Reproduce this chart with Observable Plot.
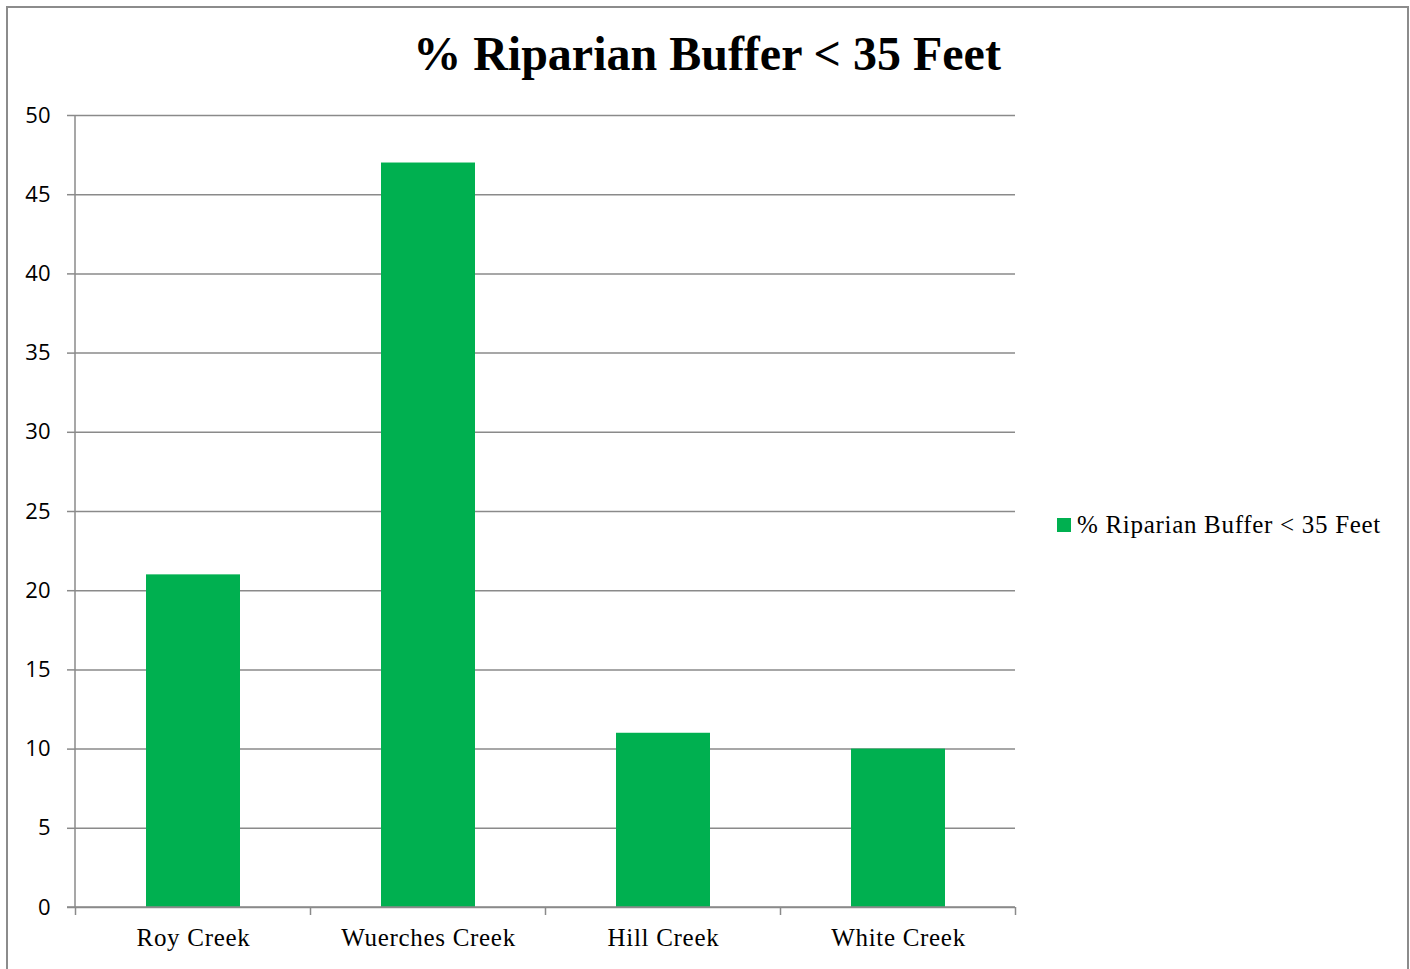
<!DOCTYPE html>
<html>
<head>
<meta charset="utf-8">
<script src="https://cdn.jsdelivr.net/npm/d3@7"></script>
<script src="https://cdn.jsdelivr.net/npm/@observablehq/plot@0.6"></script>
<style>
  html, body { margin: 0; padding: 0; background: #fff; }
  #wrap { position: relative; width: 1410px; height: 969px; overflow: hidden; }
  #frame { position: absolute; left: 6px; top: 6px; width: 1403px; height: 980px; border: 2px solid #8c8c8c; box-sizing: border-box; }
  #title { position: absolute; left: 0; width: 1414px; top: 26px; text-align: center; font-family: "Liberation Serif", "Times New Roman", serif; font-weight: bold; font-size: 48px; color: #000; }
  #legend { position: absolute; left: 1057px; top: 511px; font-family: "Liberation Serif", "Times New Roman", serif; font-size: 25px; letter-spacing: 0.7px; color: #000; display: flex; align-items: center; white-space: nowrap; }
  #legend .sw { width: 14px; height: 14px; background: #00B050; margin-right: 6px; }
  #chart { position: absolute; left: 0; top: 0; }
</style>
</head>
<body>
<div id="wrap">
  <div id="frame"></div>
  <div id="chart"></div>
  <div id="title"></div>
  <div id="legend"><span class="sw"></span><span id="legendText"></span></div>
</div>
<script>
const titleText = "% Riparian Buffer < 35 Feet";
const seriesName = "% Riparian Buffer < 35 Feet";
const categories = ["Roy Creek", "Wuerches Creek", "Hill Creek", "White Creek"];
const values = [21, 47, 11, 10];
const yTicks = [0, 5, 10, 15, 20, 25, 30, 35, 40, 45, 50];
const barColor = "#00B050";
const gridColor = "#8a8a8a";

document.getElementById("title").textContent = titleText;
document.getElementById("legendText").textContent = seriesName;

const data = categories.map((c, i) => ({category: c, value: values[i]}));

// boundary ticks between categories on x axis, plus axis lines
function boundaryTicks(index, scales, values, dims) {
  const x = scales.x, y = scales.y;
  const step = x.step();
  const g = d3.create("svg:g");
  const xs = categories.map(c => x(c) + x.bandwidth() / 2 - step / 2);
  xs.push(x(categories[categories.length - 1]) + x.bandwidth() / 2 + step / 2);
  const y0 = y(0);
  for (const xv of xs) {
    g.append("line").attr("x1", xv).attr("x2", xv).attr("y1", y0).attr("y2", y0 + 8)
      .attr("stroke", gridColor).attr("stroke-width", 1.5);
  }
  g.append("line").attr("x1", dims.marginLeft - 8).attr("x2", dims.width - dims.marginRight)
    .attr("y1", y0).attr("y2", y0).attr("stroke", gridColor).attr("stroke-width", 1.5);
  g.append("line").attr("x1", dims.marginLeft).attr("x2", dims.marginLeft)
    .attr("y1", y(50)).attr("y2", y0).attr("stroke", gridColor).attr("stroke-width", 1.5);
  return g.node();
}

const plot = Plot.plot({
  width: 1410,
  height: 969,
  marginLeft: 75,
  marginRight: 395,
  marginTop: 115,
  marginBottom: 62,
  style: {background: "transparent", overflow: "visible"},
  x: {domain: categories, paddingInner: 0.6, paddingOuter: 0.3, label: null},
  y: {domain: [0, 50], label: null},
  marks: [
    Plot.gridY(yTicks, {stroke: gridColor, strokeOpacity: 1, strokeWidth: 1.5}),
    Plot.barY(data, {x: "category", y: "value", fill: barColor}),
    Plot.axisY({ticks: yTicks, tickSize: 8, tickPadding: 17, stroke: gridColor, strokeWidth: 1.5,
      fontSize: 22, fontFamily: "'Open Sans', 'DejaVu Sans', sans-serif", fill: "#000", label: null}),
    Plot.axisX({tickSize: 0, tickPadding: 21, fontSize: 25, fontFamily: "'Liberation Serif', 'Times New Roman', serif", fill: "#000", label: null, style: "letter-spacing: 0.7px"}),
    boundaryTicks
  ]
});
plot.querySelectorAll("[aria-label='x-axis tick label'] text").forEach(t => t.setAttribute("letter-spacing", "0.7"));
document.getElementById("chart").appendChild(plot);
</script>
</body>
</html>
